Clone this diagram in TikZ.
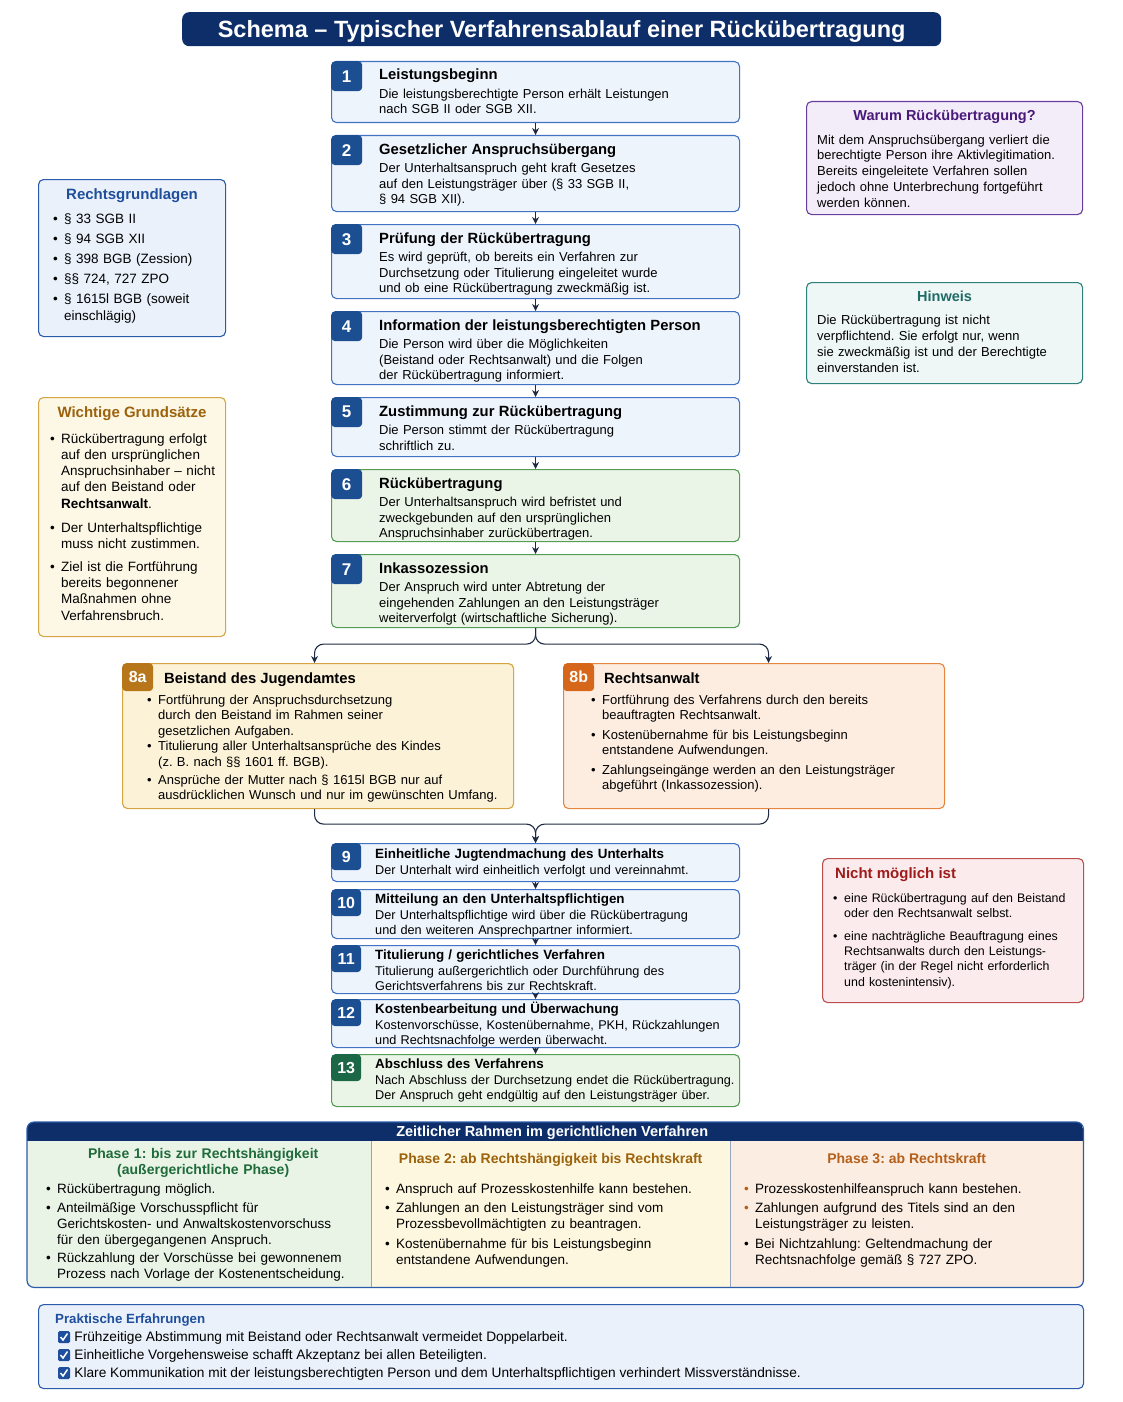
\documentclass[tikz,border=0pt]{standalone}
\usepackage{fontspec}
\setmainfont{Liberation Sans}
\usetikzlibrary{arrows.meta,calc}
\frenchspacing

\definecolor{navy}{RGB}{14,46,106}
\definecolor{badgeblue}{RGB}{28,78,146}
\definecolor{stepline}{RGB}{66,114,196}
\definecolor{stepfill}{RGB}{238,244,252}
\definecolor{greenline}{RGB}{84,156,88}
\definecolor{greenfill}{RGB}{235,245,231}
\definecolor{badgegreen}{RGB}{28,104,70}
\definecolor{arrowcol}{RGB}{30,42,66}
\definecolor{aline}{RGB}{214,164,64}
\definecolor{afill}{RGB}{252,242,215}
\definecolor{abadge}{RGB}{184,118,26}
\definecolor{bline}{RGB}{228,134,64}
\definecolor{bfill}{RGB}{253,237,225}
\definecolor{bbadge}{RGB}{214,102,26}
\definecolor{rgline}{RGB}{43,92,171}
\definecolor{rgfill}{RGB}{234,241,251}
\definecolor{rgtitle}{RGB}{31,79,156}
\definecolor{wgline}{RGB}{214,166,68}
\definecolor{wgfill}{RGB}{253,247,229}
\definecolor{wgtitle}{RGB}{156,98,12}
\definecolor{wrline}{RGB}{106,62,160}
\definecolor{wrfill}{RGB}{242,237,248}
\definecolor{wrtitle}{RGB}{74,26,122}
\definecolor{hwline}{RGB}{46,128,122}
\definecolor{hwfill}{RGB}{238,246,246}
\definecolor{hwtitle}{RGB}{31,107,102}
\definecolor{nmline}{RGB}{187,77,77}
\definecolor{nmfill}{RGB}{251,235,236}
\definecolor{nmtitle}{RGB}{158,27,27}
\definecolor{phgreen}{RGB}{233,244,231}
\definecolor{phyellow}{RGB}{253,247,223}
\definecolor{phpeach}{RGB}{252,237,226}
\definecolor{ph1title}{RGB}{31,107,58}
\definecolor{ph2title}{RGB}{156,98,12}
\definecolor{ph3title}{RGB}{181,96,26}
\definecolor{divline}{RGB}{150,165,190}

% bullet item with hanging lines
\newcommand{\bul}[2][black]{{\let\\\newline\hangindent=11pt\hangafter=1\noindent\makebox[11pt][l]{\textcolor{#1}{\textbullet}}#2\par}}
\newcommand{\ttl}[1]{{\fontsize{14.8}{15.5}\selectfont\bfseries #1}}
\newcommand{\sttl}[1]{{\fontsize{13.4}{15}\selectfont\bfseries #1}}

\tikzset{
  box/.style={draw, rounded corners=5, line width=1.1pt, anchor=north west, inner sep=0pt},
  stepbox/.style={box, draw=stepline, fill=stepfill, minimum width=408},
  greenbox/.style={box, draw=greenline, fill=greenfill, minimum width=408},
  badge/.style={anchor=north west, fill=badgeblue, text=white, rounded corners=4, inner sep=0pt,
    minimum width=31, minimum height=30, font=\fontsize{17}{17}\selectfont\bfseries},
  steptext/.style={anchor=base west, inner sep=0pt, text width=360, align=left, font=\fontsize{13}{15.5}\selectfont},
  smalltext/.style={steptext, font=\fontsize{12.7}{15.2}\selectfont},
  sidetitle/.style={anchor=base, inner sep=0pt, font=\fontsize{15}{18}\selectfont\bfseries},
  listtext/.style={anchor=base west, inner sep=0pt, align=left, font=\fontsize{13}{15.5}\selectfont},
  phtext/.style={listtext, font=\fontsize{13.5}{16}\selectfont},
  colbox/.style={anchor=north west, inner sep=0pt, minimum height=146},
  chk/.style={fill=rgtitle, rounded corners=1.5, minimum size=12, inner sep=0pt},
  arr/.style={draw=arrowcol, line width=1.1pt, -{Stealth[length=7pt,width=7pt]}},
  conn/.style={rounded corners=9},
}

\begin{document}
\begin{tikzpicture}[x=1pt,y=-1pt]
\useasboundingbox (0,0) rectangle (1122,1402);

% title bar
\node[anchor=north west, fill=navy, rounded corners=7, minimum width=759, minimum height=34, inner sep=0pt,
  text depth=0pt, text=white, font=\fontsize{23.5}{25}\selectfont\bfseries] (head) at (182,12)
  {Schema – Typischer Verfahrensablauf einer Rückübertragung};

% main steps 1-7
\node[stepbox, minimum height=61] (s1) at (331,61) {};
\node[badge] (n1) at (s1.north west) {1};
\node[steptext] (t1) at ([shift={(48,19)}]s1.north west)
  {\ttl{Leistungsbeginn}\\[3pt]Die leistungsberechtigte Person erhält Leistungen\\nach SGB II oder SGB XII.};

\node[stepbox, minimum height=76] (s2) at (331,135) {};
\node[badge] (n2) at (s2.north west) {2};
\node[steptext] (t2) at ([shift={(48,19)}]s2.north west)
  {\ttl{Gesetzlicher Anspruchsübergang}\\[3pt]Der Unterhaltsanspruch geht kraft Gesetzes\\auf den Leistungsträger über (§ 33 SGB II,\\§ 94 SGB XII).};

\node[stepbox, minimum height=74] (s3) at (331,224) {};
\node[badge] (n3) at (s3.north west) {3};
\node[steptext] (t3) at ([shift={(48,19)}]s3.north west)
  {\ttl{Prüfung der Rückübertragung}\\[3pt]Es wird geprüft, ob bereits ein Verfahren zur\\Durchsetzung oder Titulierung eingeleitet wurde\\und ob eine Rückübertragung zweckmäßig ist.};

\node[stepbox, minimum height=73] (s4) at (331,311) {};
\node[badge] (n4) at (s4.north west) {4};
\node[steptext] (t4) at ([shift={(48,19)}]s4.north west)
  {\ttl{Information der leistungsberechtigten Person}\\[3pt]Die Person wird über die Möglichkeiten\\(Beistand oder Rechtsanwalt) und die Folgen\\der Rückübertragung informiert.};

\node[stepbox, minimum height=59] (s5) at (331,397) {};
\node[badge] (n5) at (s5.north west) {5};
\node[steptext] (t5) at ([shift={(48,19)}]s5.north west)
  {\ttl{Zustimmung zur Rückübertragung}\\[3pt]Die Person stimmt der Rückübertragung\\schriftlich zu.};

\node[greenbox, minimum height=72] (s6) at (331,469) {};
\node[badge] (n6) at (s6.north west) {6};
\node[steptext] (t6) at ([shift={(48,19)}]s6.north west)
  {\ttl{Rückübertragung}\\[3pt]Der Unterhaltsanspruch wird befristet und\\zweckgebunden auf den ursprünglichen\\Anspruchsinhaber zurückübertragen.};

\node[greenbox, minimum height=73] (s7) at (331,554) {};
\node[badge] (n7) at (s7.north west) {7};
\node[steptext] (t7) at ([shift={(48,19)}]s7.north west)
  {\ttl{Inkassozession}\\[3pt]Der Anspruch wird unter Abtretung der\\eingehenden Zahlungen an den Leistungsträger\\weiterverfolgt (wirtschaftliche Sicherung).};

% branches 8a / 8b
\node[box, draw=aline, fill=afill, minimum width=391, minimum height=145] (b8a) at (122,663) {};
\node[badge, fill=abadge, minimum height=28, font=\fontsize{16}{16}\selectfont\bfseries] (n8a) at (b8a.north west) {8a};
\node[listtext, font=\fontsize{14.8}{16}\selectfont\bfseries] (h8a) at ([shift={(42,20)}]b8a.north west) {Beistand des Jugendamtes};
\node[listtext, text width=370] (l8a) at ([shift={(25,41)}]b8a.north west)
  {\bul{Fortführung der Anspruchsdurchsetzung\\durch den Beistand im Rahmen seiner\\gesetzlichen Aufgaben.}
   \bul{Titulierung aller Unterhaltsansprüche des Kindes\\(z. B. nach §§ 1601 ff. BGB).}\vspace{2.5pt}
   \bul{Ansprüche der Mutter nach § 1615l BGB nur auf\\ausdrücklichen Wunsch und nur im gewünschten Umfang.}};

\node[box, draw=bline, fill=bfill, minimum width=381, minimum height=145] (b8b) at (563,663) {};
\node[badge, fill=bbadge, minimum height=28, font=\fontsize{16}{16}\selectfont\bfseries] (n8b) at (b8b.north west) {8b};
\node[listtext, font=\fontsize{14.8}{16}\selectfont\bfseries] (h8b) at ([shift={(41,20)}]b8b.north west) {Rechtsanwalt};
\node[listtext, text width=345, font=\fontsize{13}{15.3}\selectfont] (l8b) at ([shift={(28,41)}]b8b.north west)
  {\bul{Fortführung des Verfahrens durch den bereits\\beauftragten Rechtsanwalt.}\vspace{4.7pt}
   \bul{Kostenübernahme für bis Leistungsbeginn\\entstandene Aufwendungen.}\vspace{4.7pt}
   \bul{Zahlungseingänge werden an den Leistungsträger\\abgeführt (Inkassozession).}};

% steps 9-13
\node[stepbox, minimum height=38] (s9) at (331,843) {};
\node[badge, minimum width=30, minimum height=27, font=\fontsize{16}{16}\selectfont\bfseries] (n9) at (s9.north west) {9};
\node[smalltext] (t9) at ([shift={(44,15)}]s9.north west)
  {\sttl{Einheitliche Jugtendmachung des Unterhalts}\\[1pt]Der Unterhalt wird einheitlich verfolgt und vereinnahmt.};

\node[stepbox, minimum height=49] (s10) at (331,889) {};
\node[badge, minimum width=30, minimum height=27, font=\fontsize{16}{16}\selectfont\bfseries] (n10) at (s10.north west) {10};
\node[smalltext] (t10) at ([shift={(44,14.5)}]s10.north west)
  {\sttl{Mitteilung an den Unterhaltspflichtigen}\\[1pt]Der Unterhaltspflichtige wird über die Rückübertragung\\und den weiteren Ansprechpartner informiert.};

\node[stepbox, minimum height=48] (s11) at (331,945) {};
\node[badge, minimum width=30, minimum height=27, font=\fontsize{16}{16}\selectfont\bfseries] (n11) at (s11.north west) {11};
\node[smalltext] (t11) at ([shift={(44,14)}]s11.north west)
  {\sttl{Titulierung / gerichtliches Verfahren}\\[1pt]Titulierung außergerichtlich oder Durchführung des\\Gerichtsverfahrens bis zur Rechtskraft.};

\node[stepbox, minimum height=48] (s12) at (331,999) {};
\node[badge, minimum width=30, minimum height=27, font=\fontsize{16}{16}\selectfont\bfseries] (n12) at (s12.north west) {12};
\node[smalltext] (t12) at ([shift={(44,14)}]s12.north west)
  {\sttl{Kostenbearbeitung und Überwachung}\\[1pt]Kostenvorschüsse, Kostenübernahme, PKH, Rückzahlungen\\und Rechtsnachfolge werden überwacht.};

\node[greenbox, minimum height=52] (s13) at (331,1054) {};
\node[badge, fill=badgegreen, minimum width=30, minimum height=27, font=\fontsize{16}{16}\selectfont\bfseries] (n13) at (s13.north west) {13};
\node[smalltext] (t13) at ([shift={(44,14.5)}]s13.north west)
  {\sttl{Abschluss des Verfahrens}\\[1pt]Nach Abschluss der Durchsetzung endet die Rückübertragung.\\Der Anspruch geht endgültig auf den Leistungsträger über.};

% arrows
\draw[arr] (s1) -- (s2);
\draw[arr] (s2) -- (s3);
\draw[arr] (s3) -- (s4);
\draw[arr] (s4) -- (s5);
\draw[arr] (s5) -- (s6);
\draw[arr] (s6) -- (s7);
\draw[arr, conn] (s7.south) -- ++(0,16) -| ([xshift=-3.5]b8a.north);
\draw[arr, conn] (s7.south) -- ++(0,16) -| ([xshift=14.5]b8b.north);
\draw[arr, conn] ([xshift=-3.5]b8a.south) -- ++(0,15) -| (s9.north);
\draw[arr, conn] ([xshift=14.5]b8b.south) -- ++(0,15) -| (s9.north);
\draw[arr] (s9) -- (s10);
\draw[arr] (s10) -- (s11);
\draw[arr] (s11) -- (s12);
\draw[arr] (s12) -- (s13);

% left side
\node[box, draw=rgline, fill=rgfill, minimum width=187, minimum height=157] (rg) at (38,179) {};
\node[sidetitle, text=rgtitle] (rgt) at ([shift={(0,20)}]rg.north) {Rechtsgrundlagen};
\node[listtext, text width=165, font=\fontsize{13.5}{17}\selectfont] (rgl) at ([shift={(15,44)}]rg.north west)
  {\bul{§ 33 SGB II}\vspace{3pt}
   \bul{§ 94 SGB XII}\vspace{3pt}
   \bul{§ 398 BGB (Zession)}\vspace{3pt}
   \bul{§§ 724, 727 ZPO}\vspace{3pt}
   \bul{§ 1615l BGB (soweit\\einschlägig)}};

\node[box, draw=wgline, fill=wgfill, minimum width=187, minimum height=239] (wg) at (38,397) {};
\node[sidetitle, text=wgtitle] (wgt) at ([shift={(0,20)}]wg.north) {Wichtige Grundsätze};
\node[listtext, text width=172, font=\fontsize{13.5}{16.3}\selectfont] (wgl) at ([shift={(12,46)}]wg.north west)
  {\bul{Rückübertragung erfolgt\\auf den ursprünglichen\\Anspruchsinhaber – nicht\\auf den Beistand oder\\\textbf{Rechtsanwalt}.}\vspace{7.5pt}
   \bul{Der Unterhaltspflichtige\\muss nicht zustimmen.}\vspace{6.7pt}
   \bul{Ziel ist die Fortführung\\bereits begonnener\\Maßnahmen ohne\\Verfahrensbruch.}};

% right side
\node[box, draw=wrline, fill=wrfill, minimum width=276, minimum height=113] (wr) at (806,101) {};
\node[sidetitle, text=wrtitle, font=\fontsize{14.5}{17}\selectfont\bfseries] (wrt) at ([shift={(0,20)}]wr.north) {Warum Rückübertragung?};
\node[listtext, text width=262, font=\fontsize{13}{15.75}\selectfont] (wrl) at ([shift={(11,43)}]wr.north west)
  {Mit dem Anspruchsübergang verliert die\\berechtigte Person ihre Aktivlegitimation.\\Bereits eingeleitete Verfahren sollen\\jedoch ohne Unterbrechung fortgeführt\\werden können.};

\node[box, draw=hwline, fill=hwfill, minimum width=276, minimum height=101] (hw) at (806,282) {};
\node[sidetitle, text=hwtitle, font=\fontsize{14.5}{17}\selectfont\bfseries] (hwt) at ([shift={(0,19)}]hw.north) {Hinweis};
\node[listtext, text width=262, font=\fontsize{13}{16}\selectfont] (hwl) at ([shift={(11,42)}]hw.north west)
  {Die Rückübertragung ist nicht\\verpflichtend. Sie erfolgt nur, wenn\\sie zweckmäßig ist und der Berechtigte\\einverstanden ist.};

\node[box, draw=nmline, fill=nmfill, minimum width=261, minimum height=144] (nm) at (822,858) {};
\node[listtext, text=nmtitle, font=\fontsize{15}{17}\selectfont\bfseries] (nmt) at ([shift={(13,20.5)}]nm.north west) {Nicht möglich ist};
\node[listtext, text width=245, font=\fontsize{12.4}{15.3}\selectfont] (nml) at ([shift={(11,44)}]nm.north west)
  {\bul{eine Rückübertragung auf den Beistand\\oder den Rechtsanwalt selbst.}\vspace{7.7pt}
   \bul{eine nachträgliche Beauftragung eines\\Rechtsanwalts durch den Leistungs-\\träger (in der Regel nicht erforderlich\\und kostenintensiv).}};

% time frame
\begin{scope}
\clip[rounded corners=7] (27,1122) rectangle (1083,1287);
\node[colbox, fill=phgreen, minimum width=344] (ph1) at (27,1141) {};
\node[colbox, fill=phyellow, minimum width=359] (ph2) at (371,1141) {};
\node[colbox, fill=phpeach, minimum width=353] (ph3) at (730,1141) {};
\node[anchor=north west, fill=navy, minimum width=1056, minimum height=19, inner sep=0pt] (tlhead) at (27,1122) {};
\end{scope}
\draw[rgline, line width=1.2pt, rounded corners=7] (tlhead.north west) rectangle (ph3.south east);
\draw[divline, line width=1pt] (ph1.north east) -- (ph1.south east);
\draw[divline, line width=1pt] (ph2.north east) -- (ph2.south east);
\node[anchor=base, inner sep=0pt, text=white, font=\fontsize{14.5}{16}\selectfont\bfseries] (tlt) at ([shift={(-3,5)}]tlhead.center)
  {Zeitlicher Rahmen im gerichtlichen Verfahren};

\node[anchor=base, inner sep=0pt, text width=330, align=center, text=ph1title, font=\fontsize{14}{16}\selectfont\bfseries] (ph1t)
  at ([shift={(4,17)}]ph1.north) {Phase 1: bis zur Rechtshängigkeit\\(außergerichtliche Phase)};
\node[phtext, text width=325] (ph1l) at ([shift={(19,52)}]ph1.north west)
  {\bul{Rückübertragung möglich.}\vspace{3pt}
   \bul{Anteilmäßige Vorschusspflicht für\\Gerichtskosten- und Anwaltskostenvorschuss\\für den übergegangenen Anspruch.}\vspace{2pt}
   \bul{Rückzahlung der Vorschüsse bei gewonnenem\\Prozess nach Vorlage der Kostenentscheidung.}};

\node[anchor=base, inner sep=0pt, text=ph2title, font=\fontsize{14}{16}\selectfont\bfseries] (ph2t)
  at ([shift={(0,22)}]ph2.north) {Phase 2: ab Rechtshängigkeit bis Rechtskraft};
\node[phtext, text width=340] (ph2l) at ([shift={(14,52)}]ph2.north west)
  {\bul{Anspruch auf Prozesskostenhilfe kann bestehen.}\vspace{3pt}
   \bul{Zahlungen an den Leistungsträger sind vom\\Prozessbevollmächtigten zu beantragen.}\vspace{4pt}
   \bul{Kostenübernahme für bis Leistungsbeginn\\entstandene Aufwendungen.}};

\node[anchor=base, inner sep=0pt, text=ph3title, font=\fontsize{14}{16}\selectfont\bfseries] (ph3t)
  at ([shift={(0,22)}]ph3.north) {Phase 3: ab Rechtskraft};
\node[phtext, text width=335] (ph3l) at ([shift={(14,52)}]ph3.north west)
  {\bul[ph3title]{Prozesskostenhilfeanspruch kann bestehen.}\vspace{3pt}
   \bul[ph3title]{Zahlungen aufgrund des Titels sind an den\\Leistungsträger zu leisten.}\vspace{4pt}
   \bul{Bei Nichtzahlung: Geltendmachung der\\Rechtsnachfolge gemäß § 727 ZPO.}};

% practical experience
\node[box, draw=rgline, fill=rgfill, minimum width=1045, minimum height=84] (pe) at (38,1304) {};
\node[listtext, text=rgtitle, font=\fontsize{13.3}{15}\selectfont\bfseries] (pet) at ([shift={(17,19.5)}]pe.north west) {Praktische Erfahrungen};
\node[chk] (c1) at (64,1337) {};
\node[chk] (c2) at (64,1355) {};
\node[chk] (c3) at (64,1373) {};
\draw[white, line width=1.5pt] ([shift={(-3.5,0)}]c1.center) -- ([shift={(-1,3)}]c1.center) -- ([shift={(3.5,-3.5)}]c1.center);
\draw[white, line width=1.5pt] ([shift={(-3.5,0)}]c2.center) -- ([shift={(-1,3)}]c2.center) -- ([shift={(3.5,-3.5)}]c2.center);
\draw[white, line width=1.5pt] ([shift={(-3.5,0)}]c3.center) -- ([shift={(-1,3)}]c3.center) -- ([shift={(3.5,-3.5)}]c3.center);
\node[listtext, font=\fontsize{13.7}{15}\selectfont] (p1) at ([shift={(4,4.8)}]c1.east)
  {Frühzeitige Abstimmung mit Beistand oder Rechtsanwalt vermeidet Doppelarbeit.};
\node[listtext, font=\fontsize{13.7}{15}\selectfont] (p2) at ([shift={(4,4.8)}]c2.east)
  {Einheitliche Vorgehensweise schafft Akzeptanz bei allen Beteiligten.};
\node[listtext, font=\fontsize{13.7}{15}\selectfont] (p3) at ([shift={(4,4.8)}]c3.east)
  {Klare Kommunikation mit der leistungsberechtigten Person und dem Unterhaltspflichtigen verhindert Missverständnisse.};
\end{tikzpicture}
\end{document}
